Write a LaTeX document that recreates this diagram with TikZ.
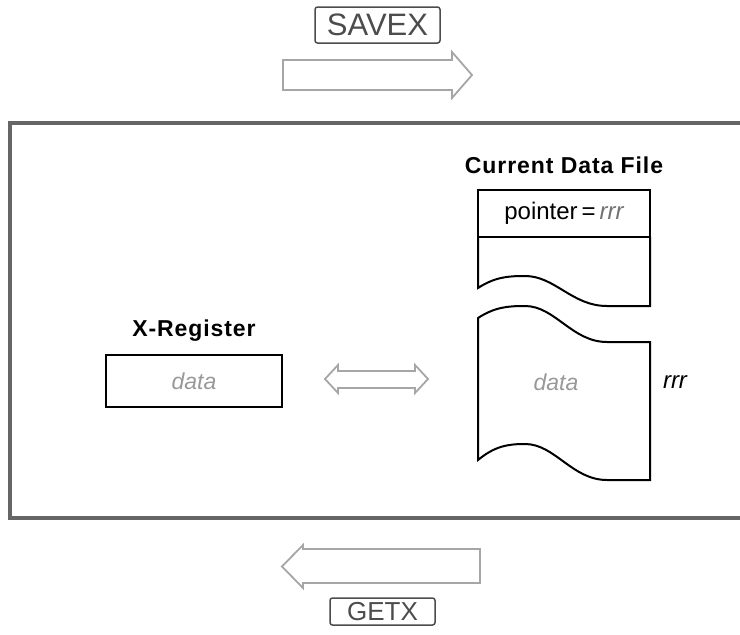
\documentclass[tikz,border=0pt]{standalone}
\usepackage{fontspec}
\setmainfont{Liberation Sans}
\usetikzlibrary{positioning}
\newcommand{\fsz}[1]{\fontsize{#1}{#1}\selectfont}

\begin{document}
\begin{tikzpicture}[x=1pt,y=-1pt,
	keybox/.style={draw=black!70,line width=1.5pt,rounded corners=2.5pt,text=black!70,inner sep=0pt},
	regbox/.style={draw,line width=2pt,inner sep=0pt},
	heading/.style={font=\bfseries\fsz{23}\addfontfeature{LetterSpace=4}},
	greydata/.style={text=black!40,font=\itshape\fsz{23}},
	blockarrow/.style={draw=black!35,line width=1.8pt,line join=miter},
	frame/.style={draw=black!60,line width=3.5pt}]
\useasboundingbox (0,0) rectangle (740,635);
% keys
\node[keybox,minimum width=125pt,minimum height=36pt,font=\fsz{31}] (savex) at (377.5,25) {SAVEX};
\node[keybox,minimum width=105pt,minimum height=27pt,font=\fsz{26}] (getx) at (382.5,611.5) {GETX};
\draw[blockarrow] (283,60) -- (452,60) -- (452,52) -- (472,75) -- (452,98) -- (452,90) -- (283,90) -- cycle;
\draw[blockarrow] (480,549) -- (303,549) -- (303,545) -- (282,566.5) -- (303,588) -- (303,583) -- (480,583) -- cycle;
% calculator
\draw[frame] (745,123) -- (10,123) -- (10,518) -- (745,518);
% x-register
\node[regbox,minimum width=176pt,minimum height=52pt,greydata] (xreg) at (194,381) {data};
\node[heading] (xregname) at (194,331) {X-Register};
\draw[blockarrow] (325,379) -- (338,365) -- (338,371) -- (415,371) -- (415,365) -- (428,379)
	-- (415,393) -- (415,388) -- (338,388) -- (338,393) -- cycle;
% data file
\node[heading] (filename) at (564,165) {Current Data File};
\node[regbox,minimum width=172pt,minimum height=47pt,font=\fsz{24}] (pointer) at (564,213.5) {pointer\,=\,\textcolor{black!55}{\itshape rrr}};
\draw[line width=2pt] (478,237) -- (478,288)
	.. controls (495,277) and (508,276) .. (525,276)
	.. controls (555,276) and (572,306) .. (607,306)
	-- (650,306) -- (650,237);
\draw[line width=2pt,line join=miter] (650,342) -- (607,342)
	.. controls (572,342) and (555,306) .. (525,306)
	.. controls (508,306) and (495,307) .. (478,318)
	-- (478,460)
	.. controls (495,446) and (508,444) .. (525,444)
	.. controls (555,444) and (572,480) .. (607,480)
	-- (650,480) -- cycle;
\node[greydata] (filedata) at (556,382) {data};
\node[font=\itshape\fsz{24}] (rec) at (675,382) {rrr};
\end{tikzpicture}
\end{document}
